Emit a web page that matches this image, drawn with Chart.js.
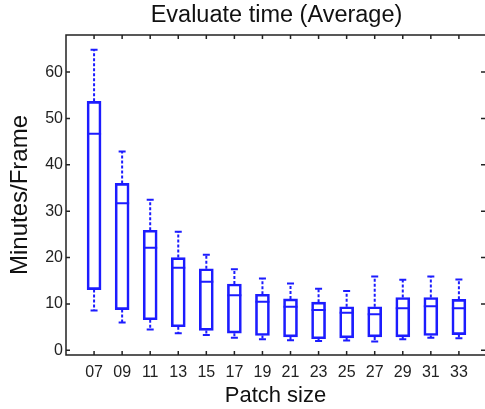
<!DOCTYPE html>
<html>
<head>
<meta charset="utf-8">
<script src="https://cdn.jsdelivr.net/npm/chart.js@4/dist/chart.umd.min.js"></script>
<style>
  html, body { margin: 0; padding: 0; background: #fff; overflow: hidden; }
  #wrap { width: 485px; height: 409px; }
</style>
</head>
<body>
<div id="wrap"><canvas id="evalChart" width="485" height="409"></canvas></div>
<script>
// patch sizes (x) and box-plot statistics
const patchSizes = [7, 9, 11, 13, 15, 17, 19, 21, 23, 25, 27, 29, 31, 33];
const whiskerHigh = [64.8, 42.9, 32.5, 25.6, 20.6, 17.5, 15.5, 14.4, 13.3, 12.8, 15.9, 15.2, 15.9, 15.3];
const boxHigh = [53.7, 36.0, 25.9, 20.0, 17.6, 14.3, 12.1, 11.1, 10.4, 9.4, 9.4, 11.4, 11.4, 11.0];
const medians = [46.7, 31.7, 22.1, 17.8, 14.8, 11.9, 10.5, 9.4, 8.7, 8.1, 7.8, 9.1, 9.5, 9.1];
const boxLow = [13.1, 8.8, 6.6, 5.1, 4.3, 3.7, 3.2, 2.9, 2.5, 2.7, 2.9, 2.9, 3.2, 3.4];
const whiskerLow = [8.6, 6.0, 4.5, 3.7, 3.3, 2.7, 2.4, 2.2, 2.0, 2.1, 1.9, 2.4, 2.7, 2.6];
const yTicks = [0, 10, 20, 30, 40, 50, 60];

const BLUE = "#1c1cff";
const INK = "#222";
const FONT = "'Liberation Sans', Arial, sans-serif";

// whiskers, medians, frame and inward ticks (matlab style)
const boxExtras = {
  id: "boxExtras",
  afterDatasetsDraw(chart) {
    const { ctx, chartArea: a, scales: { x, y } } = chart;
    ctx.save();
    ctx.strokeStyle = BLUE;
    ctx.lineWidth = 2;
    patchSizes.forEach((p, i) => {
      const px = x.getPixelForValue(p);
      // dashed whiskers
      ctx.setLineDash([3, 2]);
      ctx.beginPath();
      ctx.moveTo(px, y.getPixelForValue(boxHigh[i]));
      ctx.lineTo(px, y.getPixelForValue(whiskerHigh[i]));
      ctx.moveTo(px, y.getPixelForValue(boxLow[i]));
      ctx.lineTo(px, y.getPixelForValue(whiskerLow[i]));
      ctx.stroke();
      ctx.setLineDash([]);
      // caps
      ctx.beginPath();
      ctx.moveTo(px - 3.5, y.getPixelForValue(whiskerHigh[i]));
      ctx.lineTo(px + 3.5, y.getPixelForValue(whiskerHigh[i]));
      ctx.moveTo(px - 3.5, y.getPixelForValue(whiskerLow[i]));
      ctx.lineTo(px + 3.5, y.getPixelForValue(whiskerLow[i]));
      // median
      ctx.moveTo(px - 7, y.getPixelForValue(medians[i]));
      ctx.lineTo(px + 7, y.getPixelForValue(medians[i]));
      ctx.stroke();
    });

    // frame: the right border falls just outside the picture
    ctx.strokeStyle = INK;
    ctx.lineWidth = 1.5;
    ctx.beginPath();
    ctx.moveTo(a.right, a.top);
    ctx.lineTo(a.left, a.top);
    ctx.lineTo(a.left, a.bottom);
    ctx.lineTo(a.right, a.bottom);
    // ticks pointing in
    patchSizes.forEach((p) => {
      const px = x.getPixelForValue(p);
      ctx.moveTo(px, a.bottom);
      ctx.lineTo(px, a.bottom - 4);
      ctx.moveTo(px, a.top);
      ctx.lineTo(px, a.top + 4);
    });
    yTicks.forEach((v) => {
      const py = y.getPixelForValue(v);
      ctx.moveTo(a.left, py);
      ctx.lineTo(a.left + 4, py);
      ctx.moveTo(a.right, py);
      ctx.lineTo(a.right - 4, py);
    });
    ctx.stroke();

    // title, centred on the full plot box
    ctx.fillStyle = "#111";
    ctx.font = "23.5px " + FONT;
    ctx.textAlign = "center";
    ctx.textBaseline = "middle";
    ctx.fillText("Evaluate time (Average)", x.getPixelForValue(20), 16);
    ctx.restore();
  },
};

const ctx = document.getElementById("evalChart").getContext("2d");
new Chart(ctx, {
  type: "bar",
  data: {
    datasets: [
      {
        data: patchSizes.map((p, i) => ({ x: p, y: [boxLow[i], boxHigh[i]] })),
        backgroundColor: "rgba(0,0,0,0)",
        borderColor: BLUE,
        borderWidth: 2,
        borderSkipped: false,
        barThickness: 14,
      },
    ],
  },
  options: {
    responsive: false,
    animation: false,
    devicePixelRatio: 1,
    layout: { padding: { top: 35, right: 0, left: 0, bottom: 0 } },
    plugins: {
      legend: { display: false },
      tooltip: { enabled: false },
    },
    scales: {
      x: {
        type: "linear",
        min: 5,
        max: 34.86,
        offset: false,
        afterBuildTicks: (s) => { s.ticks = patchSizes.map((v) => ({ value: v })); },
        afterFit: (s) => { s.height = 54; },
        grid: { display: false, drawTicks: false, offset: false },
        border: { display: false },
        ticks: {
          color: INK,
          padding: 8,
          maxRotation: 0,
          autoSkip: false,
          font: { family: FONT, size: 16 },
          callback: (v) => String(v).padStart(2, "0"),
        },
        title: {
          display: true,
          text: "Patch size",
          color: "#111",
          font: { family: FONT, size: 22 },
          padding: { top: 1, bottom: 0 },
        },
      },
      y: {
        min: -1,
        max: 68,
        afterBuildTicks: (s) => { s.ticks = yTicks.map((v) => ({ value: v })); },
        afterFit: (s) => { s.width = 66; },
        grid: { display: false, drawTicks: false },
        border: { display: false },
        ticks: {
          color: INK,
          padding: 3,
          font: { family: FONT, size: 16 },
        },
        title: {
          display: true,
          text: "Minutes/Frame",
          color: "#111",
          font: { family: FONT, size: 24 },
          padding: { top: 5.5, bottom: 0 },
        },
      },
    },
  },
  plugins: [boxExtras],
});
</script>
</body>
</html>
